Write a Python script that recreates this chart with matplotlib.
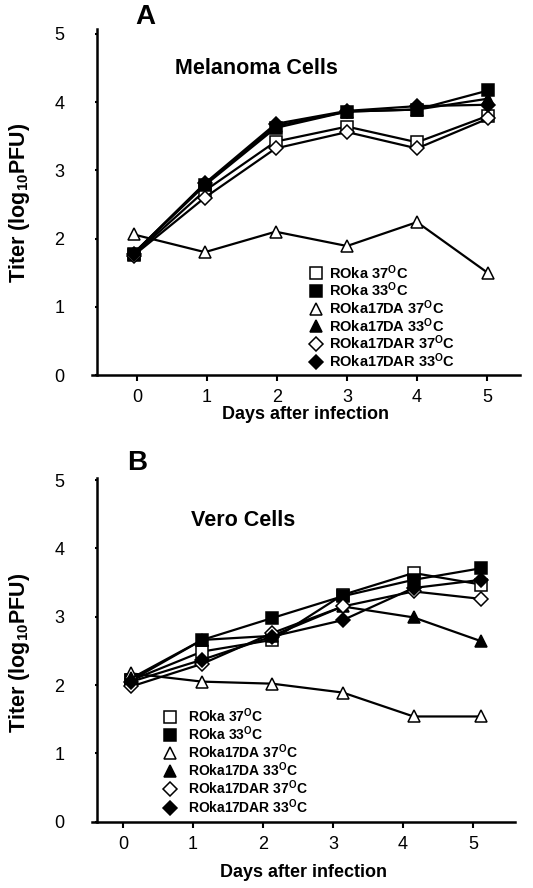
import matplotlib
matplotlib.use('Agg')
import matplotlib.pyplot as plt
from matplotlib.lines import Line2D

plt.rcParams['font.family'] = ['Liberation Sans', 'DejaVu Sans']
plt.rcParams['mathtext.fontset'] = 'custom'
plt.rcParams['mathtext.bf'] = 'Liberation Sans:bold'
plt.rcParams['mathtext.rm'] = 'Liberation Sans:bold'
plt.rcParams['mathtext.default'] = 'bf'

# ---------------- data ----------------
day_ticks = [0, 1, 2, 3, 4, 5]
titer_ticks = [0, 1, 2, 3, 4, 5]
days_a = [-0.05, 0.97, 1.98, 3.0, 4.0, 5.02]
days_b = [0.12, 1.13, 2.13, 3.14, 4.15, 5.12]

labels = [r'ROka 37$^{\mathbf{O}}$C', r'ROka 33$^{\mathbf{O}}$C',
          r'ROka17DA 37$^{\mathbf{O}}$C', r'ROka17DA 33$^{\mathbf{O}}$C',
          r'ROka17DAR 37$^{\mathbf{O}}$C', r'ROka17DAR 33$^{\mathbf{O}}$C']

mel_roka_37 = [1.76, 2.70, 3.42, 3.64, 3.41, 3.80]
mel_roka_33 = [1.78, 2.78, 3.62, 3.86, 3.89, 4.17]
mel_17da_37 = [2.06, 1.80, 2.10, 1.89, 2.24, 1.49]
mel_17da_33 = [1.78, 2.80, 3.65, 3.86, 3.89, 4.05]
mel_17dar_37 = [1.75, 2.60, 3.32, 3.56, 3.32, 3.76]
mel_17dar_33 = [1.78, 2.81, 3.68, 3.87, 3.94, 3.96]

vero_roka_37 = [2.07, 2.49, 2.66, 3.32, 3.64, 3.47]
vero_roka_33 = [2.07, 2.66, 2.98, 3.30, 3.54, 3.71]
vero_17da_37 = [2.17, 2.05, 2.02, 1.89, 1.54, 1.54]
vero_17da_33 = [2.10, 2.66, 2.72, 3.15, 2.99, 2.64]
vero_17dar_37 = [1.98, 2.31, 2.76, 3.15, 3.37, 3.26]
vero_17dar_33 = [2.05, 2.37, 2.71, 2.95, 3.42, 3.54]

mel_series = [mel_roka_37, mel_roka_33, mel_17da_37, mel_17da_33, mel_17dar_37, mel_17dar_33]
vero_series = [vero_roka_37, vero_roka_33, vero_17da_37, vero_17da_33, vero_17dar_37, vero_17dar_33]

markers = ['s', 's', '^', '^', 'D', 'D']
faces = ['white', 'black', 'white', 'black', 'white', 'black']
msizes = [8, 8, 8.5, 8.5, 7, 7]

W, H = 533, 888
fig = plt.figure(figsize=(W / 100, H / 100), dpi=100)


def fx(px):
    return px / W


def fy(py):
    return 1 - py / H


def make_panel(left, right, top, bottom, x0px, yspine_px, ylim_top, xdata, series,
               letter, letter_xy, title, title_xy, leg_xy, leg_pad, leg_size, leg_space,
               xlabel_pad, ylab_y):
    ax = fig.add_axes([fx(left), fy(bottom), fx(right) - fx(left), fy(top) - fy(bottom)])
    unit = 70.0
    ax.set_xlim((left - x0px) / unit, (right - x0px) / unit)
    ax.set_ylim(0, ylim_top)
    for s, m, fc, ms in zip(series, markers, faces, msizes):
        ax.plot(xdata, s, color='black', lw=1.6, marker=m, ms=ms, mfc=fc,
                mec='black', mew=1.1, clip_on=False)
    ax.spines['top'].set_visible(False)
    ax.spines['right'].set_visible(False)
    ax.spines['left'].set_position(('data', (yspine_px - x0px) / unit))
    for sp in ('left', 'bottom'):
        ax.spines[sp].set_linewidth(1.8)
    ax.set_xticks(day_ticks)
    ax.set_yticks(titer_ticks)
    ax.tick_params(axis='x', direction='out', length=4, width=1.5, labelsize=13, pad=6)
    ax.tick_params(axis='y', direction='out', length=1.5, width=1.5, labelsize=13, pad=22)
    ax.set_xlabel('Days after infection', fontsize=13, fontweight='bold', labelpad=xlabel_pad)
    fig.text(fx(20), fy(ylab_y), r'Titer (log$_{\mathbf{10}}$PFU)', rotation=90,
             fontsize=15.5, fontweight='bold', ha='center', va='center')
    fig.text(fx(letter_xy[0]), fy(letter_xy[1]), letter, fontsize=20, fontweight='bold',
             ha='center', va='center')
    fig.text(fx(title_xy[0]), fy(title_xy[1]), title, fontsize=15.5, fontweight='bold',
             ha='center', va='center')
    handles = [Line2D([], [], ls='none', marker=m, ms=ms, mfc=fc, mec='black', mew=1.1)
               for m, fc, ms in zip(markers, faces, msizes)]
    ax.legend(handles, labels, loc='upper left', bbox_to_anchor=(fx(leg_xy[0]), fy(leg_xy[1])),
              bbox_transform=fig.transFigure, frameon=False,
              prop={'weight': 'bold', 'size': leg_size}, borderpad=0, borderaxespad=0,
              handlelength=1.0, handletextpad=leg_pad, labelspacing=leg_space)
    return ax


make_panel(92, 520, 29, 375, 137, 97, 5.07, days_a, mel_series,
           'A', (145, 17), 'Melanoma Cells', (256, 68), (309, 263), 0.39, 10.5, -0.065, 0, 203)
make_panel(92, 515, 478, 821.7, 123, 97, 5.03, days_b, vero_series,
           'B', (137, 463), 'Vero Cells', (243, 520), (163, 706), 0.8, 10, -0.03, 8, 653)

fig.savefig('out.png', dpi=100)
